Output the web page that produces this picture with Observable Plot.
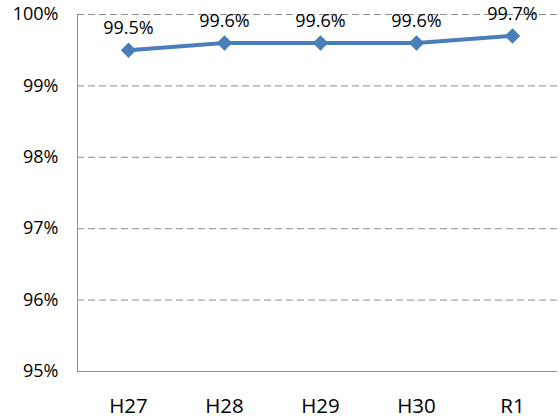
<!DOCTYPE html>
<html>
<head>
<meta charset="utf-8">
<script src="https://cdn.jsdelivr.net/npm/d3@7"></script>
<script src="https://cdn.jsdelivr.net/npm/@observablehq/plot@0.6"></script>
<style>
body { margin: 0; background: #fff; }
</style>
</head>
<body>
<div id="chart"></div>
<script>
const years = ["H27", "H28", "H29", "H30", "R1"];
const rates = [99.5, 99.6, 99.6, 99.6, 99.7];
const yTicks = [95, 96, 97, 98, 99, 100];
const gridTicks = [96, 97, 98, 99, 100];

const data = years.map((y, i) => ({year: y, rate: rates[i]}));
const font = "'Open Sans', sans-serif";
const blue = "#4A7EBB";

const chart = Plot.plot({
  width: 560,
  height: 420,
  marginTop: 14,
  marginBottom: 49,
  marginLeft: 77,
  marginRight: 3,
  style: {fontFamily: font, background: "#fff", color: "#000"},
  x: {type: "point", domain: years, range: [126, 513], padding: 0, label: null},
  y: {domain: [95, 100], label: null},
  marks: [
    Plot.ruleY(gridTicks, {stroke: "#8c8c8c", strokeWidth: 1, strokeDasharray: "7,4"}),
    Plot.ruleY([95], {stroke: "#8c8c8c", strokeWidth: 1}),
    Plot.axisY({ticks: yTicks, tickFormat: d => d + "%", tickSize: 0, tickPadding: 19, fontSize: 18, fill: "#000", label: null}),
    Plot.axisX({tickSize: 0, tickPadding: 27, fontSize: 20.5, fill: "#000", label: null}),
    Plot.line(data, {x: "year", y: "rate", stroke: blue, strokeWidth: 4}),
    Plot.dot(data, {x: "year", y: "rate", symbol: "diamond2", r: 6, fill: blue, stroke: blue}),
    Plot.text(data, {x: "year", y: "rate", text: d => d.rate.toFixed(1) + "%", dy: -22, fontSize: 18, fill: "#000"})
  ]
});
// left axis line
d3.select(chart).append("line")
  .attr("x1", 77.5).attr("x2", 77.5)
  .attr("y1", 14).attr("y2", 371)
  .attr("stroke", "#8c8c8c").attr("stroke-width", 1);
document.getElementById("chart").appendChild(chart);
</script>
</body>
</html>
